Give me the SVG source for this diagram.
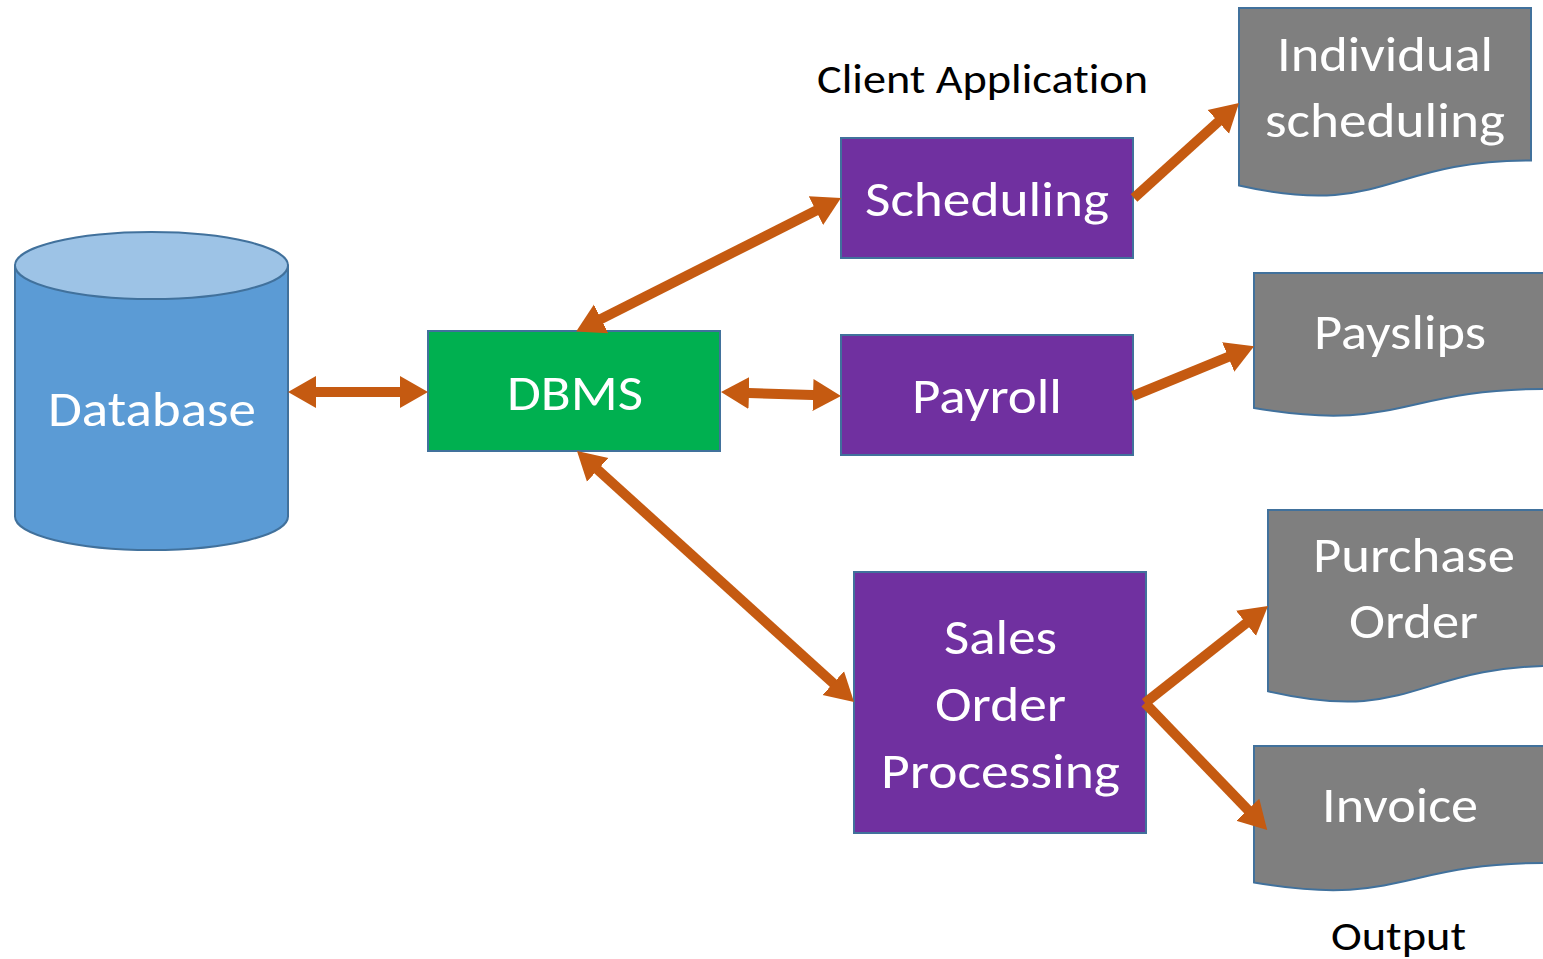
<svg xmlns="http://www.w3.org/2000/svg" width="1543" height="959" viewBox="0 0 1543 959">
<style>
.node{stroke:#41719C;stroke-width:2}
.purple{fill:#7030A0}
.green{fill:#00B050}
.doc{fill:#7F7F7F}
.wt{font-family:Carlito,Lato,"Open Sans",sans-serif;font-size:50px;fill:#FFFFFF;font-variant-ligatures:none}
.bt{font-family:Carlito,Lato,"Open Sans",sans-serif;font-size:40px;fill:#000000;font-variant-ligatures:none}
.conn{stroke:#C55A11;stroke-width:10;fill:none}
</style>
<defs>
<marker id="ah" markerUnits="userSpaceOnUse" markerWidth="30" markerHeight="34" viewBox="0 -17 30 34" refX="8" refY="0" orient="auto-start-reverse">
<path d="M0,-16 L28,0 L0,16 Z" fill="#C55A11"/>
</marker>
</defs>
<rect width="1543" height="959" fill="#FFFFFF"/>
<g id="database">
<path class="node" d="M15,265.5 L15,516.5 A136.5,33.5 0 0 0 288,516.5 L288,265.5 Z" fill="#5B9BD5"/>
<ellipse class="node" cx="151.5" cy="265.5" rx="136.5" ry="33.5" fill="#9DC3E6"/>
<text class="wt" x="48" y="426" textLength="208" lengthAdjust="spacingAndGlyphs">Database</text>
</g>
<g id="dbms">
<rect class="node green" x="428" y="331" width="292" height="120"/>
<text class="wt" x="507" y="410" textLength="136" lengthAdjust="spacingAndGlyphs">DBMS</text>
</g>
<g id="scheduling">
<rect class="node purple" x="841" y="138" width="292" height="120"/>
<text class="wt" x="865" y="216" textLength="244" lengthAdjust="spacingAndGlyphs">Scheduling</text>
</g>
<g id="payroll">
<rect class="node purple" x="841" y="335" width="292" height="120"/>
<text class="wt" x="912" y="413" textLength="150" lengthAdjust="spacingAndGlyphs">Payroll</text>
</g>
<g id="sales">
<rect class="node purple" x="854" y="572" width="292" height="261"/>
<text class="wt" x="944" y="654" textLength="113" lengthAdjust="spacingAndGlyphs">Sales</text>
<text class="wt" x="935" y="721" textLength="131" lengthAdjust="spacingAndGlyphs">Order</text>
<text class="wt" x="881" y="788" textLength="239" lengthAdjust="spacingAndGlyphs">Processing</text>
</g>
<g id="individual-scheduling">
<path class="node doc" d="M1239,8 L1531,8 L1531,160.4 C1385,160.4 1385,218.4 1239,185.5 Z"/>
<text class="wt" x="1277" y="71" textLength="216" lengthAdjust="spacingAndGlyphs">Individual</text>
<text class="wt" x="1265" y="137" textLength="240" lengthAdjust="spacingAndGlyphs">scheduling</text>
</g>
<g id="payslips">
<path class="node doc" d="M1254,273 L1546,273 L1546,389 C1400,389 1400,433 1254,408 Z"/>
<text class="wt" x="1314" y="349" textLength="172" lengthAdjust="spacingAndGlyphs">Payslips</text>
</g>
<g id="purchase-order">
<path class="node doc" d="M1268,510 L1560,510 L1560,665.6 C1414,665.6 1414,724.9 1268,691.2 Z"/>
<text class="wt" x="1313" y="572" textLength="202" lengthAdjust="spacingAndGlyphs">Purchase</text>
<text class="wt" x="1349" y="638" textLength="129" lengthAdjust="spacingAndGlyphs">Order</text>
</g>
<g id="invoice">
<path class="node doc" d="M1254,746 L1546,746 L1546,863 C1400,863 1400,907.7 1254,882.4 Z"/>
<text class="wt" x="1322" y="822" textLength="156" lengthAdjust="spacingAndGlyphs">Invoice</text>
</g>
<g id="labels">
<text class="bt" x="817" y="93" textLength="331" lengthAdjust="spacingAndGlyphs">Client Application</text>
<text class="bt" x="1331" y="950" textLength="135" lengthAdjust="spacingAndGlyphs">Output</text>
</g>
<g id="connectors">
<line class="conn" x1="308" y1="392" x2="408" y2="392" marker-start="url(#ah)" marker-end="url(#ah)"/>
<line class="conn" x1="741" y1="392.7" x2="821" y2="395.3" marker-start="url(#ah)" marker-end="url(#ah)"/>
<line class="conn" x1="594" y1="322.5" x2="823.1" y2="207" marker-start="url(#ah)" marker-end="url(#ah)"/>
<line class="conn" x1="591.8" y1="464.4" x2="839.2" y2="688.6" marker-start="url(#ah)" marker-end="url(#ah)"/>
<line class="conn" x1="1134" y1="198" x2="1224.2" y2="116.4" marker-end="url(#ah)"/>
<line class="conn" x1="1133" y1="396" x2="1235.6" y2="353.9" marker-end="url(#ah)"/>
<line class="conn" x1="1145" y1="703" x2="1252.3" y2="618.4" marker-end="url(#ah)"/>
<line class="conn" x1="1145" y1="703" x2="1253.3" y2="815.5" marker-end="url(#ah)"/>
</g>
</svg>
